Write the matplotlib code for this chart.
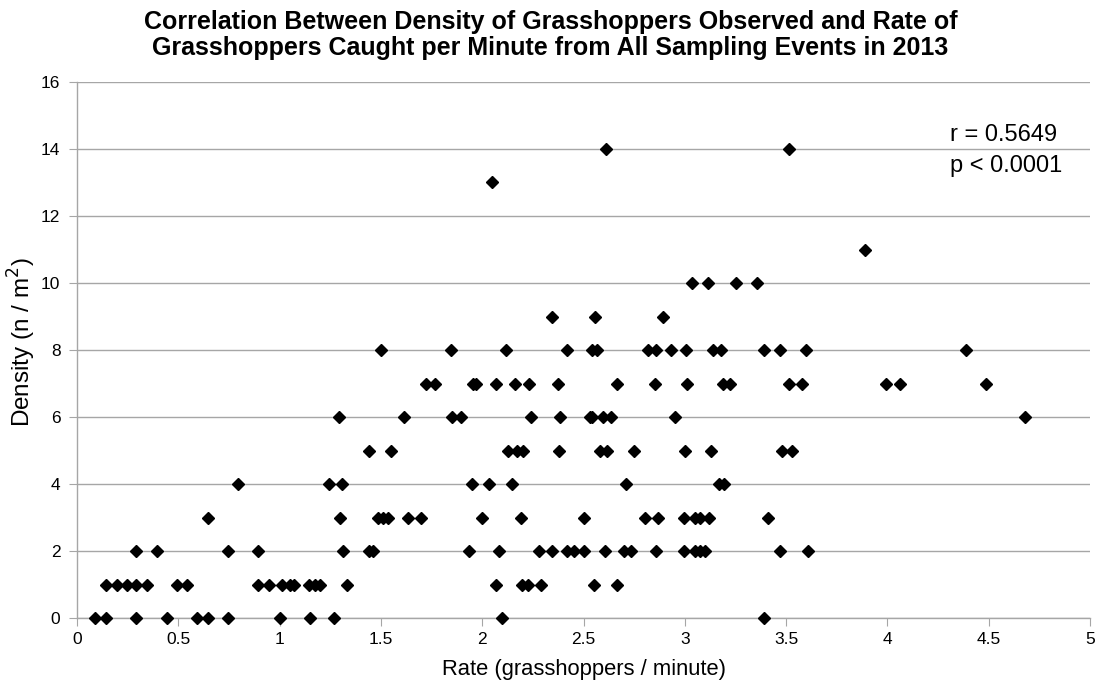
import matplotlib
matplotlib.use("Agg")
import matplotlib.pyplot as plt

# rate (grasshoppers / minute) for each density level
rate_d0 = [0.09, 0.145, 0.29, 0.445, 0.59, 0.645, 0.745, 1.0, 1.15, 1.27, 2.10, 3.39]
rate_d1 = [0.145, 0.195, 0.245, 0.29, 0.345, 0.495, 0.545, 0.895, 0.945, 1.01,
           1.05, 1.07, 1.145, 1.175, 1.20, 1.33, 2.07, 2.195, 2.225, 2.29, 2.55, 2.665]
rate_d2 = [0.29, 0.395, 0.745, 0.895, 1.315, 1.44, 1.46, 1.935, 2.085, 2.28, 2.345,
           2.42, 2.455, 2.50, 2.605, 2.70, 2.735, 2.86, 2.995, 3.05, 3.075, 3.10, 3.47, 3.61]
rate_d3 = [0.645, 1.30, 1.485, 1.51, 1.535, 1.635, 1.70, 2.0, 2.19, 2.50, 2.805,
           2.87, 2.995, 3.05, 3.075, 3.12, 3.41]
rate_d4 = [0.795, 1.245, 1.31, 1.95, 2.035, 2.145, 2.71, 3.17, 3.195]
rate_d5 = [1.44, 1.55, 2.125, 2.17, 2.20, 2.38, 2.58, 2.615, 2.75, 3.0, 3.13, 3.48, 3.53]
rate_d6 = [1.295, 1.615, 1.85, 1.895, 2.24, 2.385, 2.53, 2.54, 2.595, 2.635, 2.95, 4.68]
rate_d7 = [1.72, 1.765, 1.955, 1.97, 2.07, 2.16, 2.23, 2.375, 2.665, 2.855, 3.01,
           3.19, 3.225, 3.515, 3.58, 3.995, 4.06, 4.485]
rate_d8 = [1.50, 1.845, 2.115, 2.42, 2.54, 2.565, 2.82, 2.86, 2.93, 3.005, 3.14,
           3.18, 3.39, 3.47, 3.60, 4.39]
rate_d9 = [2.345, 2.555, 2.89]
rate_d10 = [3.035, 3.115, 3.255, 3.355]
rate_d11 = [3.89]
rate_d13 = [2.05]
rate_d14 = [2.61, 3.515]

levels = {0: rate_d0, 1: rate_d1, 2: rate_d2, 3: rate_d3, 4: rate_d4, 5: rate_d5,
          6: rate_d6, 7: rate_d7, 8: rate_d8, 9: rate_d9, 10: rate_d10,
          11: rate_d11, 13: rate_d13, 14: rate_d14}

rate = []
density = []
for d, xs in levels.items():
    rate += xs
    density += [d] * len(xs)

x_ticks = [0, 0.5, 1, 1.5, 2, 2.5, 3, 3.5, 4, 4.5, 5]
y_ticks = [0, 2, 4, 6, 8, 10, 12, 14, 16]

plt.rcParams['font.family'] = ['Liberation Sans', 'DejaVu Sans']

W, H = 1101, 685
fig = plt.figure(figsize=(W / 100, H / 100), dpi=100)
ax = fig.add_axes([0.070, 0.0974, 0.920, 0.783])

ax.plot(rate, density, linestyle='none', marker='D', markersize=6.5,
        color='black', zorder=3, clip_on=False)

ax.set_xlim(0, 5)
ax.set_ylim(0, 16)
ax.set_xticks(x_ticks)
ax.set_xticklabels([f"{t:g}" for t in x_ticks])
ax.set_yticks(y_ticks)
ax.yaxis.grid(True, color='#a6a6a6', linewidth=1)
ax.set_axisbelow(True)

for s in ['top', 'right']:
    ax.spines[s].set_visible(False)
for s in ['left', 'bottom']:
    ax.spines[s].set_color('#a6a6a6')
    ax.spines[s].set_linewidth(1)

ax.tick_params(axis='x', direction='out', length=6, color='#a6a6a6',
               labelsize=12.5, pad=4)
ax.tick_params(axis='y', direction='out', length=6, color='#a6a6a6',
               labelsize=12.5, pad=6)

# axis titles
fig.text(583.5 / W, 1 - 669 / H, 'Rate (grasshoppers / minute)',
         fontsize=15.8, ha='center', va='center')
fig.text(22 / W, 1 - 342 / H, 'Density (n / m$^2$)', rotation=90,
         fontsize=17.5, ha='center', va='center')

# correlation stats
fig.text(950 / W, 1 - 135 / H, 'r = 0.5649', fontsize=17, ha='left', va='center')
fig.text(950 / W, 1 - 166 / H, 'p < 0.0001', fontsize=17, ha='left', va='center')

fig.text(0.5, 1 - 22 / H, 'Correlation Between Density of Grasshoppers Observed and Rate of',
         fontsize=18, fontweight='bold', ha='center', va='center')
fig.text(0.5, 1 - 48 / H, 'Grasshoppers Caught per Minute from All Sampling Events in 2013',
         fontsize=18, fontweight='bold', ha='center', va='center')

fig.savefig('out.png', dpi=100)
